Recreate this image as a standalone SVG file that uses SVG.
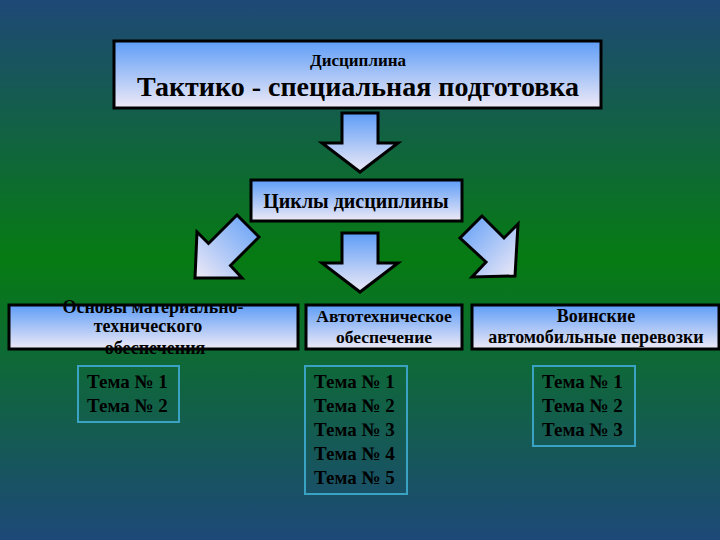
<svg xmlns="http://www.w3.org/2000/svg" width="720" height="540" viewBox="0 0 720 540">
<defs>
<linearGradient id="bg" x1="0" y1="0" x2="0" y2="1">
<stop offset="0" stop-color="#1e4876"/>
<stop offset="0.48" stop-color="#067b12"/>
<stop offset="1" stop-color="#1d4878"/>
</linearGradient>
<linearGradient id="fill" x1="0" y1="0" x2="0" y2="1">
<stop offset="0" stop-color="#5e9df7"/>
<stop offset="1" stop-color="#efeaf6"/>
</linearGradient>
<linearGradient id="fillD" x1="1" y1="0" x2="0" y2="1">
<stop offset="0" stop-color="#5e9df7"/>
<stop offset="1" stop-color="#efeaf6"/>
</linearGradient>
<linearGradient id="fillD2" x1="0" y1="0" x2="1" y2="1">
<stop offset="0" stop-color="#5e9df7"/>
<stop offset="1" stop-color="#efeaf6"/>
</linearGradient>
</defs>
<style>
.box{fill:url(#fill);stroke:#000;stroke-width:3}
.arr{stroke:#000;stroke-width:3;stroke-linejoin:miter}
.t{font-family:"Liberation Serif",serif;font-weight:bold;fill:#000;text-anchor:middle}
.tema{fill:none;stroke:#3aa3c4;stroke-width:2}
.tt{font-family:"Liberation Serif",serif;font-weight:bold;fill:#000;font-size:19px}
</style>
<rect width="720" height="540" fill="url(#bg)"/>
<g id="connectors">
<polygon class="arr" fill="url(#fill)" points="342,113 378,113 378,143 398,143 360,172 322,143 342,143"/>
<polygon class="arr" fill="url(#fill)" points="342,233 378,233 378,263 398,263 360,292 322,263 342,263"/>
<polygon class="arr" fill="url(#fillD)" points="237,215 259,237 230.5,265.5 242,278 195,278 197,232 208.5,243.5"/>
<polygon class="arr" fill="url(#fillD2)" points="482,216 460,238 486,262 472,277 515,276 518,224 504,238"/>
</g>
<g id="discipline">
<rect class="box" x="114" y="41" width="487" height="67"/>
<text class="t" x="358" y="66" font-size="17">Дисциплина</text>
<text class="t" x="358" y="96" font-size="28">Тактико - специальная подготовка</text>
</g>
<g id="cycles">
<rect class="box" x="251" y="180" width="211" height="41"/>
<text class="t" x="356" y="208" font-size="20">Циклы дисциплины</text>
</g>
<g id="mto">
<rect class="box" x="9" y="305" width="289" height="44"/>
<text class="t" x="153" y="313" font-size="18">Основы материально-</text>
<text class="t" x="148" y="332" font-size="18">технического</text>
<text class="t" x="155" y="354" font-size="18">обеспечения</text>
</g>
<g id="ato">
<rect class="box" x="306" y="305" width="156" height="44"/>
<text class="t" x="384" y="322" font-size="17.5">Автотехническое</text>
<text class="t" x="384" y="343" font-size="17.5">обеспечение</text>
</g>
<g id="vap">
<rect class="box" x="472" y="305" width="247" height="44"/>
<text class="t" x="596" y="322" font-size="18">Воинские</text>
<text class="t" x="596" y="343" font-size="18">автомобильные перевозки</text>
</g>
<g id="topics1">
<rect class="tema" x="78" y="366" width="101" height="56"/>
<text class="tt" x="87" y="388">Тема № 1</text>
<text class="tt" x="87" y="412">Тема № 2</text>
</g>
<g id="topics2">
<rect class="tema" x="305" y="366" width="102" height="128"/>
<text class="tt" x="314" y="388">Тема № 1</text>
<text class="tt" x="314" y="412">Тема № 2</text>
<text class="tt" x="314" y="436">Тема № 3</text>
<text class="tt" x="314" y="460">Тема № 4</text>
<text class="tt" x="314" y="484">Тема № 5</text>
</g>
<g id="topics3">
<rect class="tema" x="533" y="366" width="102" height="80"/>
<text class="tt" x="542" y="388">Тема № 1</text>
<text class="tt" x="542" y="412">Тема № 2</text>
<text class="tt" x="542" y="436">Тема № 3</text>
</g>
</svg>
